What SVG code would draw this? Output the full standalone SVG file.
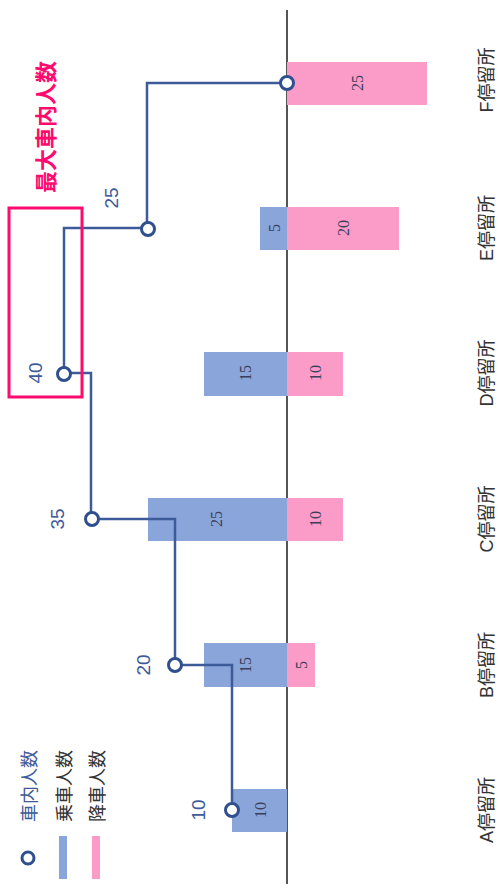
<svg xmlns="http://www.w3.org/2000/svg" width="498" height="895" viewBox="0 0 498 895">
<style>
.bg{fill:#ffffff}
.axis{stroke:#555555;stroke-width:2;fill:none}
.on{fill:#8aa5da}
.off{fill:#fb9bc8}
.val{font-family:"Liberation Serif","DejaVu Serif",serif;font-size:16px;fill:#3a3f5c;text-anchor:middle;dominant-baseline:central}
.cnt{font-family:"Liberation Sans",Arial,sans-serif;font-size:19px;fill:#3d5a99;text-anchor:middle;dominant-baseline:central}
.stop{font-family:"Liberation Sans","Noto Sans CJK JP",sans-serif;font-size:18px;fill:#333333;text-anchor:middle;dominant-baseline:central}
.step{stroke:#3d5a99;stroke-width:2.5;fill:none;stroke-linejoin:miter}
.pt{fill:#ffffff;stroke:#2f4f8f;stroke-width:3}
.hl{fill:none;stroke:#ff0a6e;stroke-width:3}
.hlt{font-family:"Noto Sans CJK JP",sans-serif;font-size:22px;font-weight:bold;fill:#ff0a6e;text-anchor:middle;dominant-baseline:central}
.leg{font-family:"Noto Sans CJK JP",sans-serif;font-size:18px;text-anchor:start;dominant-baseline:central}
</style>
<rect class="bg" x="0" y="0" width="498" height="895"/>
<line id="axis" class="axis" x1="287" y1="10" x2="287" y2="884"/>

<g id="stopA">
<rect class="on" x="232" y="789" width="55" height="43"/>
<text class="val" transform="translate(260,810) rotate(-90)">10</text>
<text class="stop" transform="translate(487,810) rotate(-90)">A停留所</text>
</g>
<g id="stopB">
<rect class="on" x="204" y="643" width="83" height="44"/>
<rect class="off" x="287" y="643" width="28" height="44"/>
<text class="val" transform="translate(245,665) rotate(-90)">15</text>
<text class="val" transform="translate(301,665) rotate(-90)">5</text>
<text class="stop" transform="translate(487,665) rotate(-90)">B停留所</text>
</g>
<g id="stopC">
<rect class="on" x="148" y="498" width="139" height="43"/>
<rect class="off" x="287" y="498" width="56" height="43"/>
<text class="val" transform="translate(216,519) rotate(-90)">25</text>
<text class="val" transform="translate(315,519) rotate(-90)">10</text>
<text class="stop" transform="translate(487,519) rotate(-90)">C停留所</text>
</g>
<g id="stopD">
<rect class="on" x="204" y="352" width="83" height="44"/>
<rect class="off" x="287" y="352" width="56" height="44"/>
<text class="val" transform="translate(245,373) rotate(-90)">15</text>
<text class="val" transform="translate(315,373) rotate(-90)">10</text>
<text class="stop" transform="translate(487,373) rotate(-90)">D停留所</text>
</g>
<g id="stopE">
<rect class="on" x="260" y="207" width="27" height="43"/>
<rect class="off" x="287" y="207" width="112" height="43"/>
<text class="val" transform="translate(274,228) rotate(-90)">5</text>
<text class="val" transform="translate(343,228) rotate(-90)">20</text>
<text class="stop" transform="translate(487,228) rotate(-90)">E停留所</text>
</g>
<g id="stopF">
<rect class="off" x="287" y="62" width="140" height="43"/>
<text class="val" transform="translate(357,83) rotate(-90)">25</text>
<text class="stop" transform="translate(487,80) rotate(-90)">F停留所</text>
</g>

<g id="connectors">
<path class="step" d="M232,810 V665 H175 V519 H91 V373 H64 V228 H147 V83 H287"/>
</g>

<g id="counts">
<circle class="pt" cx="232" cy="810" r="6.5"/>
<circle class="pt" cx="175" cy="665" r="6.5"/>
<circle class="pt" cx="92" cy="519" r="6.5"/>
<circle class="pt" cx="64" cy="374" r="6.5"/>
<circle class="pt" cx="148" cy="229" r="6.5"/>
<circle class="pt" cx="287" cy="83" r="6.5"/>
<text class="cnt" transform="translate(198,810) rotate(-90)">10</text>
<text class="cnt" transform="translate(143,665) rotate(-90)">20</text>
<text class="cnt" transform="translate(57,519) rotate(-90)">35</text>
<text class="cnt" transform="translate(35,373) rotate(-90)">40</text>
<text class="cnt" transform="translate(111,198) rotate(-90)">25</text>
</g>

<g id="highlight">
<rect class="hl" x="9" y="208" width="73" height="189"/>
<text class="hlt" transform="translate(44,127) rotate(-90)">最大車内人数</text>
</g>

<g id="legend">
<circle class="pt" cx="28" cy="858" r="6"/>
<rect class="on" x="59" y="836" width="8" height="43"/>
<rect class="off" x="92" y="836" width="8" height="43"/>
<text class="leg" fill="#3d5a99" transform="translate(28,822) rotate(-90)">車内人数</text>
<text class="leg" fill="#333333" transform="translate(63,822) rotate(-90)">乗車人数</text>
<text class="leg" fill="#333333" transform="translate(96,822) rotate(-90)">降車人数</text>
</g>
</svg>
